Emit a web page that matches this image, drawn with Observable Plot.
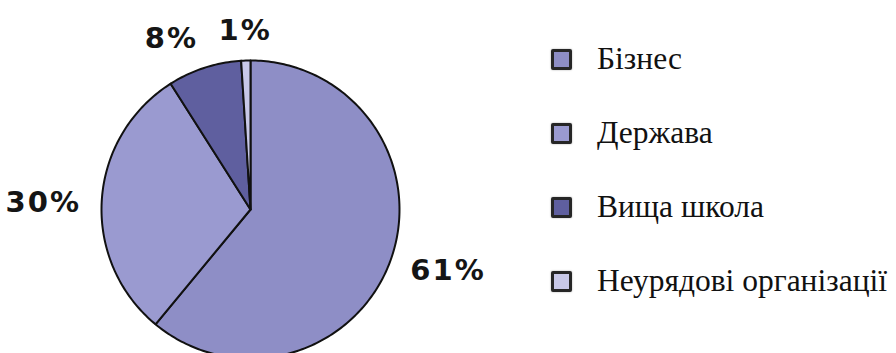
<!DOCTYPE html>
<html>
<head>
<meta charset="utf-8">
<script src="https://cdn.jsdelivr.net/npm/d3@7"></script>
<script src="https://cdn.jsdelivr.net/npm/@observablehq/plot@0.6"></script>
<style>
  html, body { margin: 0; padding: 0; background: #fff; overflow: hidden; }
  #wrap { position: relative; width: 896px; height: 353px; }
  #wrap svg.pie text { letter-spacing: 2px; }
  .legend { position: absolute; left: 0; top: 0; }
  .row { position: absolute; left: 551px; height: 32px; display: flex; align-items: center; white-space: nowrap; }
  .sw { width: 15px; height: 15px; border: 3px solid #262626; border-radius: 2px; box-shadow: 0 0 2px rgba(0,0,0,0.35); margin-right: 25px; flex: none; }
  .lt { font-family: 'Liberation Serif', 'Times New Roman', serif; font-size: 31.5px; color: #111; line-height: 32px; }
</style>
</head>
<body>
<div id="wrap"></div>
<script>
const categories = ["Бізнес", "Держава", "Вища школа", "Неурядові організації"];
const shares = [61, 30, 8, 1];
const labels = ["61%", "30%", "8%", "1%"];
const colors = ["#8e8ec6", "#9a9ad0", "#5f5f9f", "#c8c8e8"];

// pie geometry from the shares (angle 0 at 12 o'clock, clockwise)
const arcs = d3.pie().sort(null).value(d => d)(shares);
const pts = [];
arcs.forEach((a, i) => {
  const cat = categories[i];
  pts.push({cat, x: 0, y: 0});
  const n = Math.max(2, Math.ceil((a.endAngle - a.startAngle) / (Math.PI / 180)));
  for (let k = 0; k <= n; k++) {
    const t = a.startAngle + (a.endAngle - a.startAngle) * k / n;
    pts.push({cat, x: Math.sin(t), y: Math.cos(t)});
  }
  pts.push({cat, x: 0, y: 0});
});

// outside labels at the slice mid-angle
const LR = 1.14;
const textMarks = arcs.map((a, i) => {
  const m = (a.startAngle + a.endAngle) / 2;
  const sx = Math.sin(m), sy = Math.cos(m);
  const textAnchor = Math.abs(sx) < 0.3 ? "middle" : sx > 0 ? "start" : "end";
  const lineAnchor = Math.abs(sy) < 0.4 ? "middle" : sy > 0 ? "bottom" : "top";
  return Plot.text([{x: sx * LR, y: sy * LR, t: labels[i]}], {
    x: "x", y: "y", text: "t", textAnchor, lineAnchor,
    dy: lineAnchor === "middle" ? 4 : 0,
    fontFamily: "DejaVu Sans, Verdana, sans-serif", fontWeight: "bold",
    fontSize: 29, fill: "#151515"
  });
});

const chart = Plot.plot({
  width: 896,
  height: 353,
  margin: 0,
  style: {overflow: "visible", background: "transparent"},
  x: {domain: [-1, 1], range: [101, 399], axis: null},
  y: {domain: [-1, 1], range: [358, 60], axis: null},
  color: {domain: categories, range: colors},
  marks: [
    Plot.line(pts, {x: "x", y: "y", z: "cat", fill: "cat", stroke: "#111", strokeWidth: 2, strokeLinejoin: "round", curve: "linear"}),
    ...textMarks
  ]
});
chart.classList.add("pie");
const wrap = document.getElementById("wrap");
wrap.appendChild(chart);

// legend
const legend = document.createElement("div");
legend.className = "legend";
categories.forEach((c, i) => {
  const row = document.createElement("div");
  row.className = "row";
  row.style.top = (43 + i * 74) + "px";
  const sw = document.createElement("div");
  sw.className = "sw";
  sw.style.background = colors[i];
  const lt = document.createElement("div");
  lt.className = "lt";
  lt.textContent = c;
  row.appendChild(sw);
  row.appendChild(lt);
  legend.appendChild(row);
});
wrap.appendChild(legend);
</script>
</body>
</html>
